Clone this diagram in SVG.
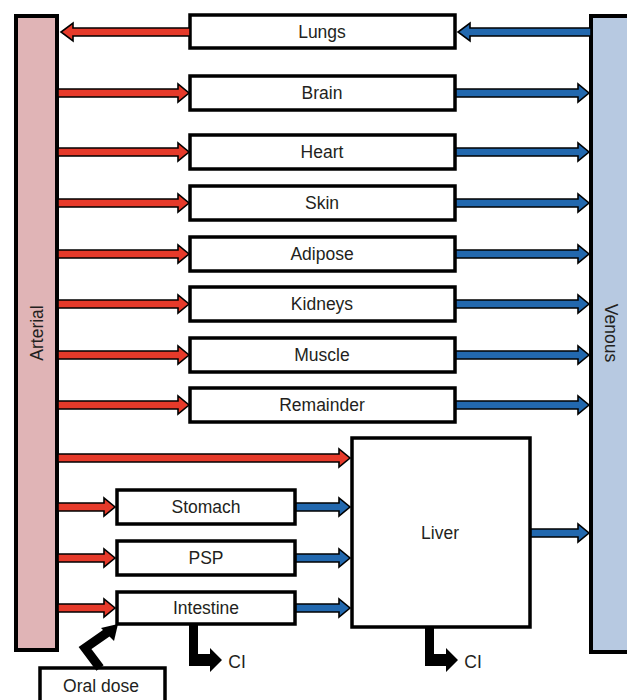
<svg xmlns="http://www.w3.org/2000/svg" width="627" height="700" viewBox="0 0 627 700">
<style>
.box{fill:#fff;stroke:#000;stroke-width:3.5}
.art{fill:#e0b4b6;stroke:#000;stroke-width:4}
.ven{fill:#b7c9e1;stroke:#000;stroke-width:4}
.r{fill:#e63a2a;stroke:#000;stroke-width:1.6;stroke-linejoin:miter}
.b{fill:#2268ae;stroke:#000;stroke-width:1.6;stroke-linejoin:miter}
.k{fill:#000}
text{font-family:"Liberation Sans",Arial,sans-serif;font-size:17.5px;fill:#231f20;text-anchor:middle;dominant-baseline:central}
</style>
<g id="arterial"><rect class="art" x="16" y="16" width="41" height="634"/><text transform="translate(37,333) rotate(-90)">Arterial</text></g>
<g id="venous"><rect class="ven" x="591" y="16" width="50" height="636"/><text transform="translate(611,333) rotate(90)">Venous</text></g>
<g id="lungs"><rect class="box" x="190" y="15" width="265" height="33"/><text x="322" y="32">Lungs</text></g>
<g id="brain"><rect class="box" x="190" y="76" width="265" height="34"/><text x="322" y="93">Brain</text></g>
<g id="heart"><rect class="box" x="190" y="135" width="265" height="34"/><text x="322" y="152">Heart</text></g>
<g id="skin"><rect class="box" x="190" y="186" width="265" height="34"/><text x="322" y="203">Skin</text></g>
<g id="adipose"><rect class="box" x="190" y="237" width="265" height="34"/><text x="322" y="254">Adipose</text></g>
<g id="kidneys"><rect class="box" x="190" y="287" width="265" height="34"/><text x="322" y="304">Kidneys</text></g>
<g id="muscle"><rect class="box" x="190" y="338" width="265" height="34"/><text x="322" y="355">Muscle</text></g>
<g id="remainder"><rect class="box" x="190" y="388" width="265" height="34"/><text x="322" y="405">Remainder</text></g>
<g id="liver"><rect class="box" x="352" y="438" width="178" height="189"/><text x="440" y="533">Liver</text></g>
<g id="stomach"><rect class="box" x="117" y="490" width="178" height="34"/><text x="206" y="507">Stomach</text></g>
<g id="psp"><rect class="box" x="117" y="541" width="178" height="34"/><text x="206" y="558">PSP</text></g>
<g id="intestine"><rect class="box" x="117" y="592" width="178" height="32"/><text x="206" y="608">Intestine</text></g>
<g id="oraldose"><rect class="box" x="40" y="668" width="125" height="40"/><text x="101" y="686">Oral dose</text></g>
<g id="connectors">
<path class="r" d="M190,28 H73 V23 L61,32 L73,41 V36 H190 Z"/>
<path class="b" d="M591,28 H470 V23 L458,32 L470,41 V36 H591 Z"/>
<path class="r" d="M58,89 H178 V84 L189,93 L178,102 V97 H58 Z"/>
<path class="r" d="M58,148 H178 V143 L189,152 L178,161 V156 H58 Z"/>
<path class="r" d="M58,199 H178 V194 L189,203 L178,212 V207 H58 Z"/>
<path class="r" d="M58,250 H178 V245 L189,254 L178,263 V258 H58 Z"/>
<path class="r" d="M58,300 H178 V295 L189,304 L178,313 V308 H58 Z"/>
<path class="r" d="M58,351 H178 V346 L189,355 L178,364 V359 H58 Z"/>
<path class="r" d="M58,401 H178 V396 L189,405 L178,414 V409 H58 Z"/>
<path class="b" d="M456,89 H578 V84 L589,93 L578,102 V97 H456 Z"/>
<path class="b" d="M456,148 H578 V143 L589,152 L578,161 V156 H456 Z"/>
<path class="b" d="M456,199 H578 V194 L589,203 L578,212 V207 H456 Z"/>
<path class="b" d="M456,250 H578 V245 L589,254 L578,263 V258 H456 Z"/>
<path class="b" d="M456,300 H578 V295 L589,304 L578,313 V308 H456 Z"/>
<path class="b" d="M456,351 H578 V346 L589,355 L578,364 V359 H456 Z"/>
<path class="b" d="M456,401 H578 V396 L589,405 L578,414 V409 H456 Z"/>
<path class="r" d="M58,454 H339 V449 L350,458 L339,467 V462 H58 Z"/>
<path class="r" d="M58,503 H104 V498 L115,507 L104,516 V511 H58 Z"/>
<path class="r" d="M58,554 H104 V549 L115,558 L104,567 V562 H58 Z"/>
<path class="r" d="M58,604 H104 V599 L115,608 L104,617 V612 H58 Z"/>
<path class="b" d="M296,503 H339 V498 L350,507 L339,516 V511 H296 Z"/>
<path class="b" d="M296,554 H339 V549 L350,558 L339,567 V562 H296 Z"/>
<path class="b" d="M296,604 H339 V599 L350,608 L339,617 V612 H296 Z"/>
<path class="b" d="M531,529 H578 V524 L589,533 L578,542 V537 H531 Z"/>
<path class="k" d="M189,624 H198 V654 H210 V648 L222,660 L210,672 V666 H189 Z"/>
<path class="k" d="M425,627 H434 V654 H446 V648 L458,660 L446,672 V666 H425 Z"/>
<polyline points="100,668 85,648 108,632" fill="none" stroke="#000" stroke-width="9" stroke-linejoin="miter"/>
<path class="k" d="M101,628 L118,624 L114,641 Z"/>
</g>
<text x="237" y="662">CI</text>
<text x="473" y="662">CI</text>
</svg>
